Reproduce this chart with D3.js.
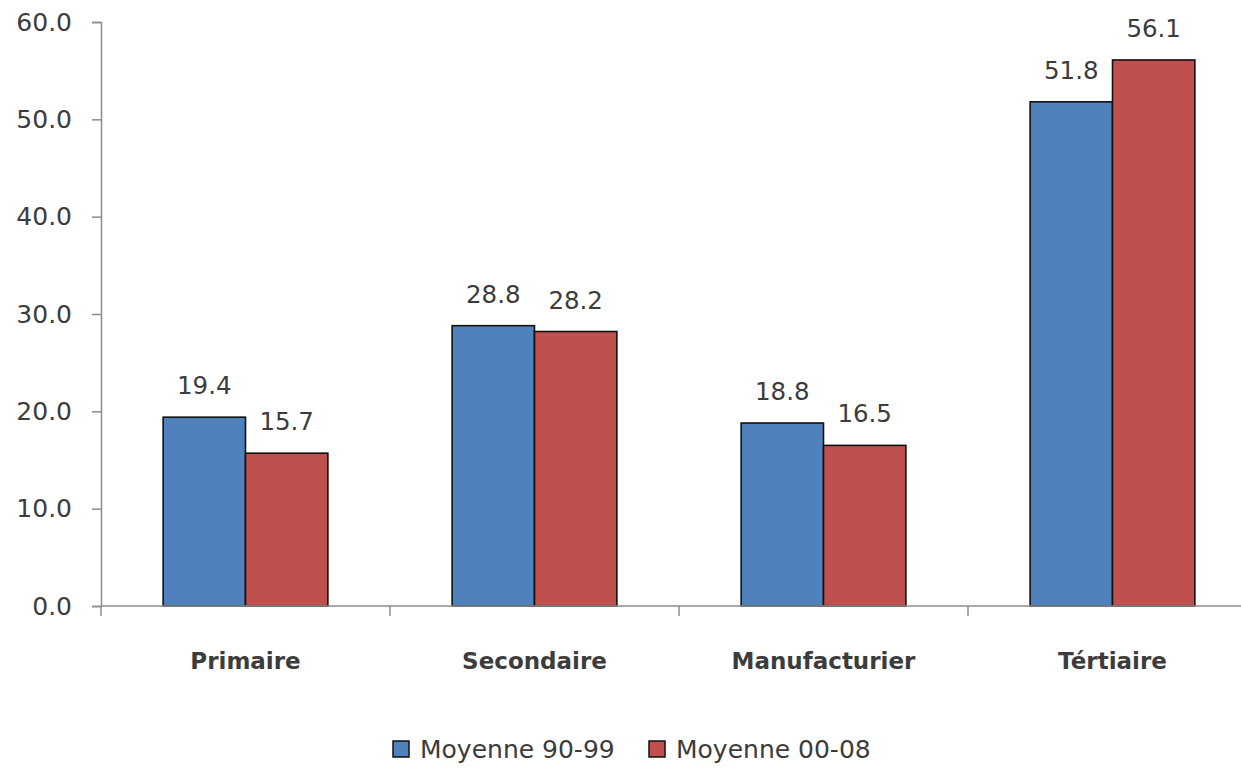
<!DOCTYPE html>
<html>
<head>
<meta charset="utf-8">
<script src="https://cdn.jsdelivr.net/npm/d3@7"></script>
<style>
  html, body { margin: 0; padding: 0; background: #fff; }
  svg { display: block; }
  text { font-family: "DejaVu Sans", "Open Sans", sans-serif; fill: #3c3c3c; }
</style>
</head>
<body>
<svg id="chart" width="1241" height="769"></svg>
<script>
// Sector shares, two period averages
const categories = ["Primaire", "Secondaire", "Manufacturier", "Tértiaire"];
const seriesNames = ["Moyenne 90-99", "Moyenne 00-08"];
const avg9099 = [19.4, 28.8, 18.8, 51.8];
const avg0008 = [15.7, 28.2, 16.5, 56.1];
const yTicks = [0, 10, 20, 30, 40, 50, 60];
const colors = ["#4F81BD", "#C0504D"];

const series = [avg9099, avg0008];

const svg = d3.select("#chart");
const plotLeft = 101, plotRight = 1257, plotTop = 22, plotBottom = 606;

const x = d3.scaleBand().domain(categories).range([plotLeft, plotRight])
  .paddingInner(0.43).paddingOuter(0.215);
const xSub = d3.scaleBand().domain(d3.range(series.length)).range([0, x.bandwidth()]);
const y = d3.scaleLinear().domain([0, 60]).range([plotBottom, plotTop]);

// bars with value labels above
categories.forEach((c, i) => {
  series.forEach((s, j) => {
    svg.append("rect")
      .attr("x", x(c) + xSub(j))
      .attr("y", y(s[i]))
      .attr("width", xSub.bandwidth())
      .attr("height", y(0) - y(s[i]))
      .attr("fill", colors[j])
      .attr("stroke", "#111")
      .attr("stroke-width", 1.6);
    svg.append("text")
      .attr("x", x(c) + xSub(j) + xSub.bandwidth() / 2)
      .attr("y", y(s[i]) - 23)
      .attr("text-anchor", "middle")
      .attr("font-size", 24.5)
      .text(d3.format(".1f")(s[i]));
  });
});

// y axis
const yAxis = svg.append("g").attr("transform", `translate(${plotLeft},0)`)
  .call(d3.axisLeft(y).tickValues(yTicks).tickFormat(d3.format(".1f")).tickSize(9).tickPadding(20));
yAxis.select(".domain").attr("stroke", "#8c8c8c").attr("stroke-width", 1.5);
yAxis.selectAll(".tick line").attr("stroke", "#8c8c8c").attr("stroke-width", 1.5);
yAxis.selectAll(".tick text").attr("font-size", 25).attr("font-family", null).attr("fill", null);

// x axis with boundary ticks between categories
const bounds = d3.range(categories.length + 1).map(k => plotLeft + k * x.step());
const xg = svg.append("g");
xg.append("line").attr("x1", plotLeft).attr("x2", plotRight).attr("y1", plotBottom).attr("y2", plotBottom)
  .attr("stroke", "#8c8c8c").attr("stroke-width", 1.5);
xg.selectAll("line.tk").data(bounds).join("line").attr("class", "tk")
  .attr("x1", d => d).attr("x2", d => d).attr("y1", plotBottom).attr("y2", plotBottom + 10)
  .attr("stroke", "#8c8c8c").attr("stroke-width", 1.5);
xg.selectAll("text").data(categories).join("text")
  .attr("x", d => x(d) + x.bandwidth() / 2)
  .attr("y", 669)
  .attr("text-anchor", "middle")
  .attr("font-size", 23)
  .attr("font-weight", "bold")
  .text(d => d);

// legend
const legendX = [393, 649];
seriesNames.forEach((n, j) => {
  const g = svg.append("g").attr("transform", `translate(${legendX[j]},741)`);
  g.append("rect").attr("width", 16).attr("height", 16)
    .attr("fill", colors[j]).attr("stroke", "#111").attr("stroke-width", 1.5);
  g.append("text").attr("x", 27).attr("y", 17).attr("font-size", 25).text(n);
});
</script>
</body>
</html>
